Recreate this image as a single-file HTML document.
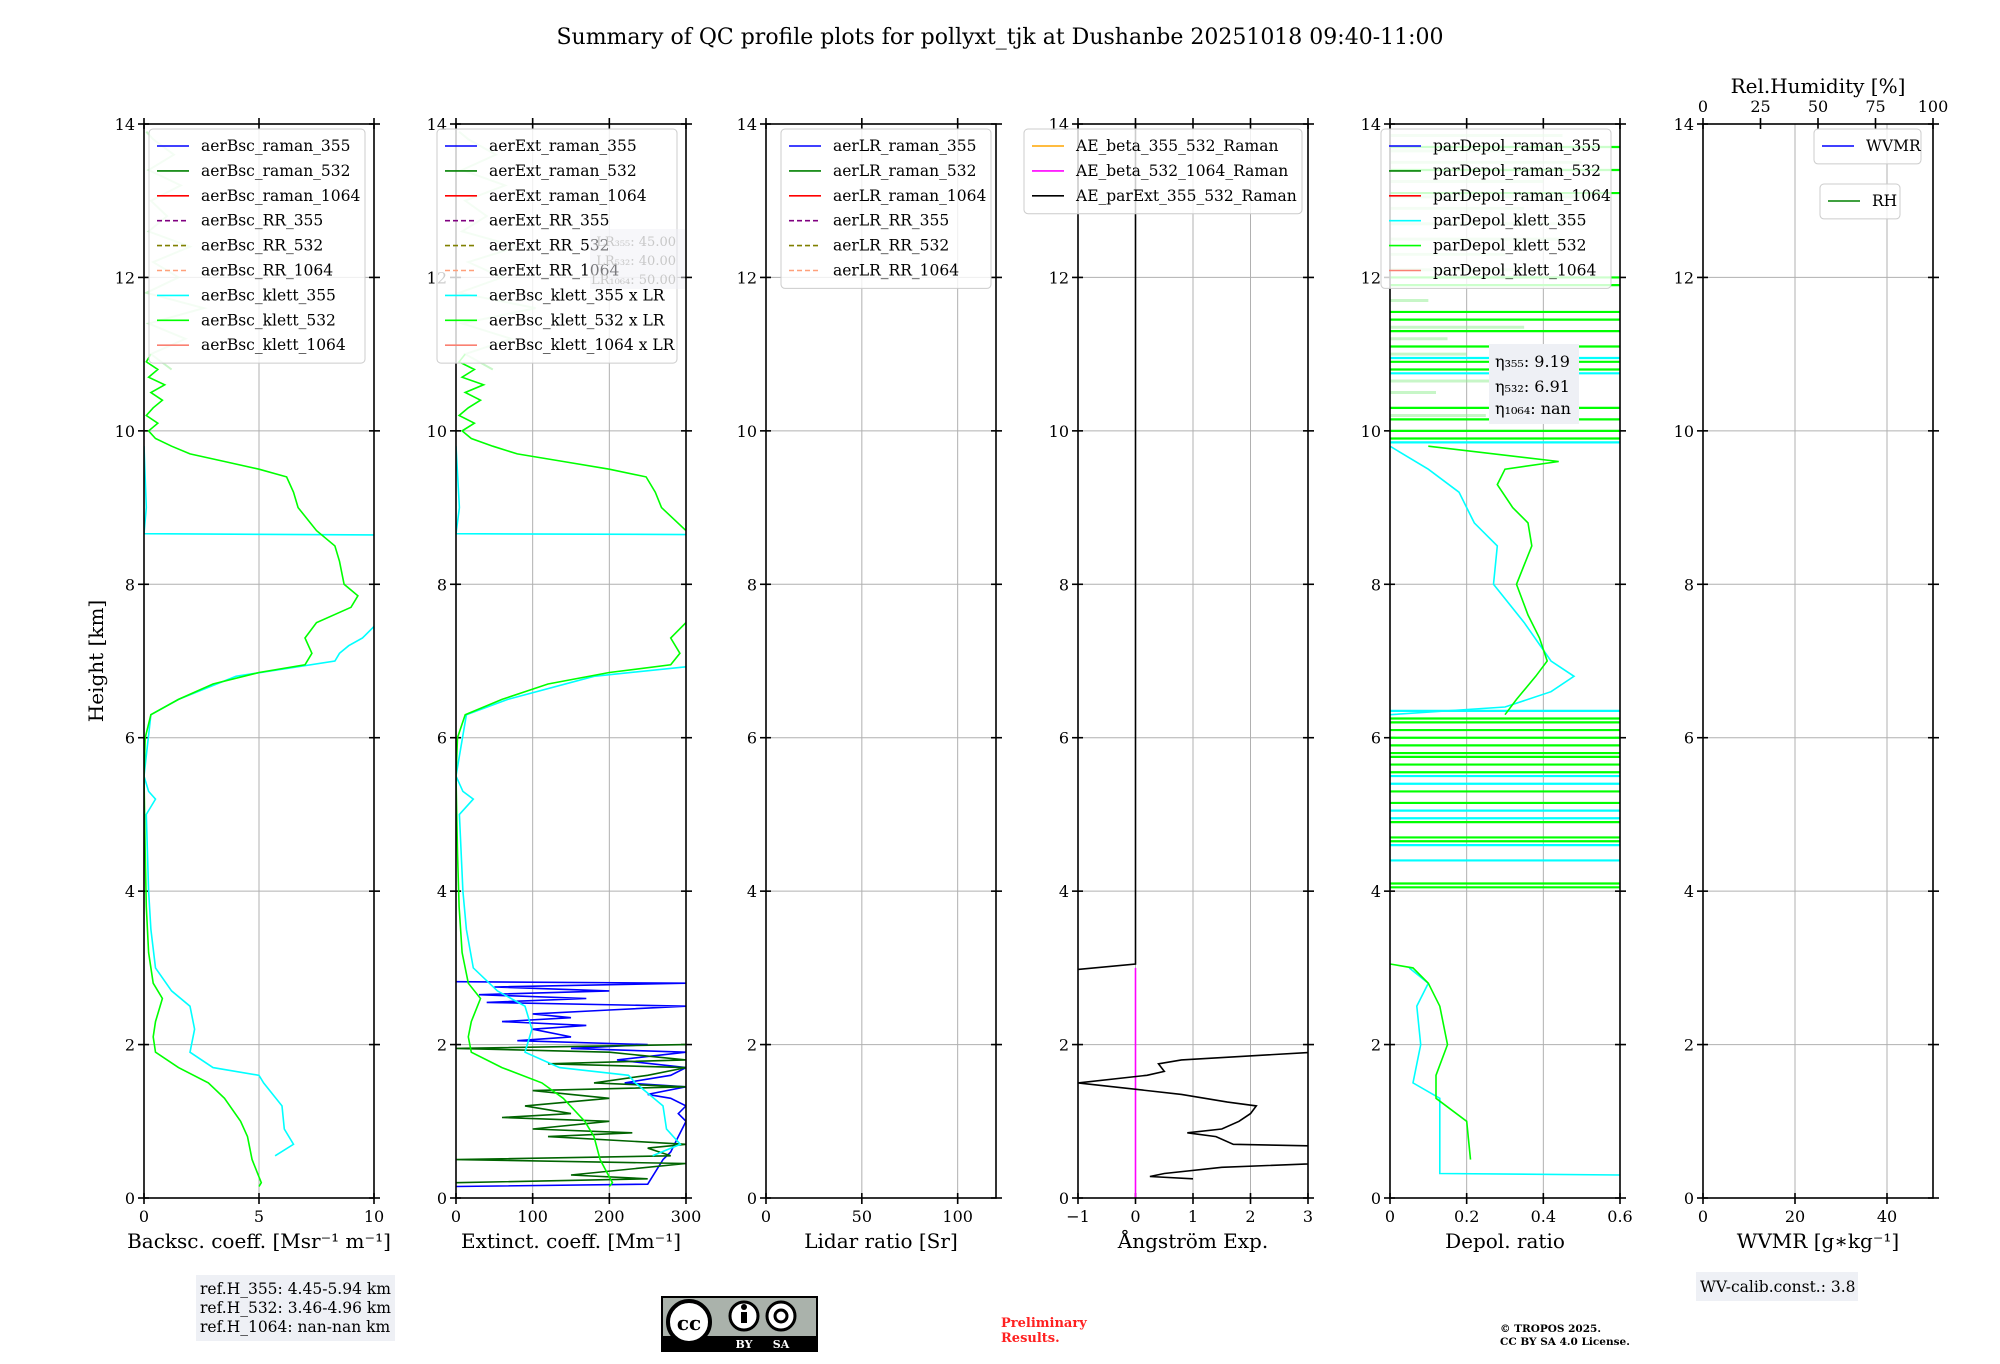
<!DOCTYPE html>
<html><head><meta charset="utf-8"><style>
body{margin:0;background:#fff;width:2000px;height:1360px;overflow:hidden;font-family:"DejaVu Serif","Liberation Serif",serif}
svg text{font-family:"DejaVu Serif","Liberation Serif",serif;fill:#000}
</style></head><body>
<svg id="fig" width="2000" height="1360" viewBox="0 0 2000 1360" xmlns="http://www.w3.org/2000/svg">
<text x="1000" y="44" font-size="22" text-anchor="middle">Summary of QC profile plots for pollyxt_tjk at Dushanbe 20251018 09:40-11:00</text>
<text transform="translate(103,661) rotate(-90)" font-size="20" text-anchor="middle">Height [km]</text>
</svg>
<script>
// ---------- data ----------
const heightTicks=[0,2,4,6,8,10,12,14];
const bscTicks=[0,5,10], extTicks=[0,100,200,300], lrTicks=[0,50,100], aeTicks=[-1,0,1,2,3], depTicks=[0,0.2,0.4,0.6], wvTicks=[0,20,40], rhTicks=[0,25,50,75,100];
const lr355=45, lr532=40;
const bsc532H=[0.15,0.2,0.5,0.8,1.0,1.3,1.5,1.7,1.9,2.1,2.3,2.6,2.8,3.2,3.8,4.5,5.5,6.0,6.3,6.5,6.7,6.85,6.95,7.1,7.3,7.5,7.7,7.85,8.0,8.3,8.5,8.7,9.0,9.2,9.4,9.5,9.6,9.7,9.8,9.9,10.0,10.1,10.2,10.3,10.4,10.5,10.6,10.7,10.8,10.9,11.0];
const bsc532V=[5.0,5.1,4.7,4.5,4.2,3.5,2.8,1.5,0.5,0.4,0.5,0.8,0.4,0.2,0.1,0.05,0,0.05,0.3,1.5,3,5,7,7.3,7.0,7.5,9.0,9.3,8.7,8.5,8.3,7.5,6.7,6.5,6.2,5.0,3.5,2.0,1.2,0.5,0.2,0.6,0.1,0.4,0.8,0.3,0.9,0.2,0.6,0.1,0.3];
const bsc355H=[0.55,0.7,0.9,1.2,1.5,1.6,1.7,1.9,2.2,2.5,2.7,3.0,3.5,4.0,5.0,5.2,5.3,5.5,6.3,6.5,6.8,7.0,7.1,7.2,7.3,7.45,7.6,8.64,8.66,9.0,9.8];
const bsc355V=[5.7,6.5,6.1,6.0,5.2,5.0,3.0,2.0,2.2,2.0,1.2,0.5,0.3,0.2,0.1,0.5,0.2,0,0.3,1.5,4,8.3,8.5,8.9,9.5,10,12,12,0,0.1,0];
const noiseH=[10.8,11.0,11.2,11.4,11.6,11.8,12.0,12.2,12.4,12.6,12.8,13.0,13.2,13.4,13.6,13.8,13.9];
const noiseV=[1.2,0.3,1.8,0.2,2.6,0.1,1.5,0.4,2.0,0.2,1.0,0.3,1.6,0.2,1.3,0.4,0.1];
const extRaman355H=[0.15,0.18,0.5,0.6,0.8,1.0,1.1,1.2,1.3,1.35,1.45,1.5,1.6,1.7,1.8,1.9,1.95,2.0,2.05,2.1,2.2,2.25,2.3,2.35,2.4,2.45,2.5,2.55,2.6,2.65,2.7,2.75,2.8,2.82];
const extRaman355V=[0,250,270,280,290,300,290,300,280,250,300,220,280,300,210,300,150,250,80,150,100,170,60,150,100,200,300,40,170,30,200,50,300,0];
const extRaman532H=[0.2,0.25,0.3,0.45,0.5,0.55,0.65,0.7,0.8,0.85,0.9,1.0,1.05,1.1,1.2,1.3,1.4,1.45,1.5,1.6,1.7,1.75,1.8,1.9,1.95,2.0];
const extRaman532V=[0,250,150,300,0,280,250,300,120,230,100,200,60,150,90,200,100,300,180,250,300,120,300,200,0,300];
const aeH=[0.25,0.28,0.32,0.4,0.45,0.68,0.7,0.8,0.85,0.9,1.0,1.1,1.2,1.25,1.35,1.5,1.6,1.65,1.75,1.8,1.9];
const aeV=[1.0,0.25,0.5,1.5,3.2,3.0,1.7,1.4,0.9,1.5,1.8,2.0,2.1,1.6,0.8,-1.0,0.2,0.5,0.4,0.8,3.1];
const aeUpH=[2.98,3.05,14];
const aeUpV=[-1,0,0];
const dep532H=[0.5,1.0,1.3,1.6,2.0,2.5,2.8,3.0,3.05,4.0,6.3,6.5,6.8,7.0,7.3,7.6,8.0,8.5,8.8,9.0,9.3,9.5,9.6,9.8];
const dep532V=[0.21,0.2,0.12,0.12,0.15,0.13,0.1,0.06,0,NaN,0.3,0.33,0.38,0.41,0.39,0.36,0.33,0.37,0.36,0.32,0.28,0.3,0.44,0.1];
const dep355H=[0.3,0.32,0.5,1.3,1.5,2.0,2.5,2.8,3.0,4.0,6.3,6.4,6.6,6.8,7.0,7.5,8.0,8.5,8.8,9.2,9.5,9.8];
const dep355V=[0.6,0.13,0.13,0.13,0.06,0.08,0.07,0.1,0.05,NaN,0,0.3,0.42,0.48,0.42,0.35,0.27,0.28,0.22,0.18,0.1,0];
const spike532H=[4.05,4.1,4.65,4.7,4.9,5.15,5.3,5.55,5.65,5.75,5.8,5.9,6.0,6.1,6.2,6.25,9.9,10.0,10.15,10.3,10.8,10.9,11.1,11.3,11.45,11.55,11.9,12.0,13.1,13.4,13.7];
const spike355H=[4.4,4.6,4.95,5.05,5.4,5.5,6.35,9.85,10.75,10.95];
const depNoiseH=[10.2,10.5,10.65,11.0,11.2,11.35,11.7,12.1,12.3,12.5,12.7,12.9,13.05,13.25,13.5,13.65,13.85];
const depNoiseV=[0.25,0.12,0.3,0.2,0.15,0.35,0.1,0.4,0.3,0.45,0.5,0.35,0.55,0.4,0.5,0.3,0.45];
// ---------- layout ----------
const Y0=1198,Y1=124;
const py=h=>Y0+(Y1-Y0)*h/14;
const panels=[{x:144,min:0,max:10},{x:456,min:0,max:300},{x:766,min:0,max:120},{x:1078,min:-1,max:3},{x:1390,min:0,max:0.6},{x:1703,min:0,max:50}];
const W=230;
const px=(p,v)=>{const P=panels[p];return P.x+W*(v-P.min)/(P.max-P.min);};
const svg=document.getElementById('fig');
const NS='http://www.w3.org/2000/svg';
function mk(tag,attrs,parent){const e=document.createElementNS(NS,tag);for(const k in attrs)e.setAttribute(k,attrs[k]);(parent||svg).appendChild(e);return e;}
function txt(s,x,y,size,anchor,parent){const t=mk('text',{x:x,y:y,'font-size':size,'text-anchor':anchor||'start'},parent);t.textContent=s;return t;}
const defs=mk('defs',{});
panels.forEach((P,i)=>{const c=mk('clipPath',{id:'clip'+i},defs);mk('rect',{x:P.x,y:Y1,width:W,height:Y0-Y1},c);});
function line(p,H,V,color,name,opts){
  opts=opts||{};
  let segs=[[]];
  H.forEach((h,k)=>{if(isNaN(V[k])){segs.push([]);return;}segs[segs.length-1].push(px(p,V[k]).toFixed(1)+','+py(h).toFixed(1));});
  segs.filter(s=>s.length>1).forEach(s=>{
    const e=mk('polyline',{points:s.join(' '),fill:'none',stroke:color,'stroke-width':opts.w||1.6,'clip-path':'url(#clip'+p+')','stroke-opacity':opts.op||1});
    
    
  });
}
function spikes(p,H,color,name,op){
  H.forEach(h=>{const e=mk('line',{x1:px(p,panels[p].min),x2:px(p,panels[p].max),y1:py(h),y2:py(h),stroke:color,'stroke-width':2.2,'stroke-opacity':op||1});
    
    });
}
function hbars(p,H,V,color,name){
  H.forEach((h,k)=>{const e=mk('line',{x1:px(p,0),x2:px(p,V[k]),y1:py(h),y2:py(h),stroke:color,'stroke-width':3,'stroke-opacity':0.5});
    
    });
}
const xTicks=[bscTicks,extTicks,lrTicks,aeTicks,depTicks,wvTicks];
const xLabels=['Backsc. coeff. [Msr⁻¹ m⁻¹]','Extinct. coeff. [Mm⁻¹]','Lidar ratio [Sr]','Ångström Exp.','Depol. ratio','WVMR [g∗kg⁻¹]'];
const fmt=v=>(Math.abs(v)<1e-9?'0':(v<0?'−'+(-v):String(v)));
panels.forEach((P,i)=>{
  const g=mk('g',{});
  
  
  heightTicks.forEach(h=>{mk('line',{x1:P.x,x2:P.x+W,y1:py(h),y2:py(h),stroke:'#b0b0b0','stroke-width':1},g);
    mk('line',{x1:P.x-6,x2:P.x+5,y1:py(h),y2:py(h),stroke:'#000','stroke-width':1.6},g);
    mk('line',{x1:P.x+W-5,x2:P.x+W+6,y1:py(h),y2:py(h),stroke:'#000','stroke-width':1.6},g);
    const t=txt(String(h),P.x-9,py(h)+6,16,'end',g);
    
    });
  xTicks[i].forEach(v=>{const x=px(i,v);mk('line',{x1:x,x2:x,y1:Y1,y2:Y0,stroke:'#b0b0b0','stroke-width':1},g);
    mk('line',{x1:x,x2:x,y1:Y0-5,y2:Y0+6,stroke:'#000','stroke-width':1.6},g);
    if(i!==5) mk('line',{x1:x,x2:x,y1:Y1-6,y2:Y1+5,stroke:'#000','stroke-width':1.6},g);
    const t=txt(fmt(v),x,Y0+24,16,'middle',g);
    
    });
  const xl=txt(xLabels[i],P.x+W/2,1248,20,'middle',g);
  
  
});
// panel 6 top axis
rhTicks.forEach(v=>{const x=1703+W*v/100;mk('line',{x1:x,x2:x,y1:Y1-6,y2:Y1+5,stroke:'#000','stroke-width':1.6});
  const t=txt(String(v),x,Y1-12,16,'middle');
  
  });
{const t=txt('Rel.Humidity [%]',1818,93,20,'middle');}
// series
line(0,noiseH,noiseV,'#90ee90','bsc-noise-532',{w:2,op:0.5});
line(1,noiseH,noiseV.map(v=>v*lr532),'#90ee90','ext-noise-532',{w:2,op:0.5});
line(0,bsc355H,bsc355V,'#00ffff','aerBsc-klett-355');
line(0,bsc532H,bsc532V,'#00ff00','aerBsc-klett-532');
line(1,extRaman355H,extRaman355V,'#0000ff','aerExt-raman-355');
line(1,extRaman532H,extRaman532V,'#006400','aerExt-raman-532');
line(1,bsc355H,bsc355V.map(v=>v*lr355),'#00ffff','aerBsc-klett-355-x-LR');
line(1,bsc532H,bsc532V.map(v=>v*lr532),'#00ff00','aerBsc-klett-532-x-LR');
line(3,[0,3.0],[0,0],'#ff00ff','AE-beta-532-1064');
line(3,aeH,aeV,'#000','AE-parExt-355-532-low');
line(3,aeUpH,aeUpV,'#000','AE-parExt-355-532-up');
hbars(4,depNoiseH,depNoiseV,'#90ee90','depol-noise-532');
spikes(4,spike532H,'#00ff00','depol-532-spike');
spikes(4,spike355H,'#00ffff','depol-355-spike');
line(4,dep355H,dep355V,'#00ffff','parDepol-klett-355');
line(4,dep532H,dep532V,'#00ff00','parDepol-klett-532');
// spines
panels.forEach((P,i)=>{const r=mk('rect',{x:P.x,y:Y1,width:W,height:Y0-Y1,fill:'none',stroke:'#000','stroke-width':1.6});
  
  });
// legends
function legend(x,y,w,items,name){
  const h=items.length*24.9+10;
  const g=mk('g',{});
  
  
  mk('rect',{x:x,y:y,width:w,height:h,rx:4,fill:'#fff','fill-opacity':0.8,stroke:'#ccc'},g);
  items.forEach((it,k)=>{const yy=y+17+k*24.9;
    mk('line',{x1:x+8,x2:x+40,y1:yy,y2:yy,stroke:it[1],'stroke-width':1.6,'stroke-dasharray':it[2]?'5,3':'none'},g);
    const t=txt(it[0],x+52,yy+5,15.5,'start',g);
    
    });
}
const C=['#0000ff','#008000','#ff0000','#800080','#808000','#ffa07a','#00ffff','#00ff00','#fa8072'];
const sfx=['raman_355','raman_532','raman_1064','RR_355','RR_532','RR_1064','klett_355','klett_532','klett_1064'];
legend(149,129,216,sfx.map((s,k)=>['aerBsc_'+s,C[k],k>=3&&k<6]),'legend-backscatter');
const extNames=['aerExt_raman_355','aerExt_raman_532','aerExt_raman_1064','aerExt_RR_355','aerExt_RR_532','aerExt_RR_1064','aerBsc_klett_355 x LR','aerBsc_klett_532 x LR','aerBsc_klett_1064 x LR'];
legend(437,129,240,extNames.map((s,k)=>[s,C[k],k>=3&&k<6]),'legend-extinction');
legend(781,129,210,sfx.slice(0,6).map((s,k)=>['aerLR_'+s,C[k],k>=3]),'legend-lidar-ratio');
legend(1024,129,278,[['AE_beta_355_532_Raman','#ffa500'],['AE_beta_532_1064_Raman','#ff00ff'],['AE_parExt_355_532_Raman','#000']],'legend-angstrom');
legend(1381,129,230,['raman_355','raman_532','raman_1064','klett_355','klett_532','klett_1064'].map((s,k)=>['parDepol_'+s,[C[0],C[1],C[2],C[6],C[7],C[8]][k]]),'legend-depol');
legend(1814,129,107,[['WVMR','#0000ff']],'legend-wvmr');
legend(1820,184,80,[['RH','#008000']],'legend-rh');
// annotations
const lrb=mk('g',{});
mk('rect',{x:590,y:229,width:95,height:60,fill:'#f0f0f5','fill-opacity':0.5},lrb);
[['LR₃₅₅: 45.00',246],['LR₅₃₂: 40.00',265],['LR₁₀₆₄: 50.00',284]].forEach(a=>{const t=txt(a[0],676,a[1],13,'end',lrb);t.style.fill='#c8c8c8';});
const eb=mk('g',{});
mk('rect',{x:1489,y:344,width:90,height:80,fill:'#eef0f5'},eb);
[['η₃₅₅: 9.19',351+16],['η₅₃₂: 6.91',376+16],['η₁₀₆₄: nan',398+16]].forEach(a=>txt(a[0],1495,a[1],16,'start',eb));
const rb=mk('g',{});
mk('rect',{x:196,y:1275,width:199,height:66,fill:'#eef0f5'},rb);
['ref.H_355: 4.45-5.94 km','ref.H_532: 3.46-4.96 km','ref.H_1064: nan-nan km'].forEach((s,k)=>txt(s,200,1294+k*19,15.5,'start',rb));
const wb=mk('g',{});
mk('rect',{x:1696,y:1272,width:162,height:29,fill:'#eef0f5'},wb);
txt('WV-calib.const.: 3.8',1700,1292,15.5,'start',wb);
// cc logo
const cc=mk('g',{});
mk('rect',{x:662,y:1297,width:155,height:54,fill:'#aab2ab',stroke:'#000','stroke-width':2},cc);
mk('rect',{x:662,y:1336,width:155,height:15,fill:'#000'},cc);
mk('circle',{cx:689,cy:1322,r:21,fill:'#fff',stroke:'#000','stroke-width':4},cc);
txt('cc',689,1330,20,'middle',cc).setAttribute('font-weight','bold');
mk('circle',{cx:744,cy:1316,r:14,fill:'#fff',stroke:'#000','stroke-width':3},cc);
mk('circle',{cx:781,cy:1316,r:14,fill:'#fff',stroke:'#000','stroke-width':3},cc);
mk('rect',{x:741,y:1312,width:6,height:11,fill:'#000'},cc);mk('circle',{cx:744,cy:1307,r:3,fill:'#000'},cc);
mk('circle',{cx:781,cy:1316,r:6,fill:'none',stroke:'#000','stroke-width':3},cc);
{const a=txt('BY',744,1348,11,'middle',cc);a.style.fill='#fff';a.setAttribute('font-weight','bold');const b=txt('SA',781,1348,11,'middle',cc);b.style.fill='#fff';b.setAttribute('font-weight','bold');}
{const t=txt('Preliminary',1001,1327,13,'start');t.style.fill='#ff2020';t.setAttribute('font-weight','bold');
 const t2=txt('Results.',1001,1342,13,'start');t2.style.fill='#ff2020';t2.setAttribute('font-weight','bold');}
{const t=txt('© TROPOS 2025.',1500,1332,10.5,'start');t.setAttribute('font-weight','bold');
 const t2=txt('CC BY SA 4.0 License.',1500,1345,10.5,'start');t2.setAttribute('font-weight','bold');}
</script>
</body></html>
